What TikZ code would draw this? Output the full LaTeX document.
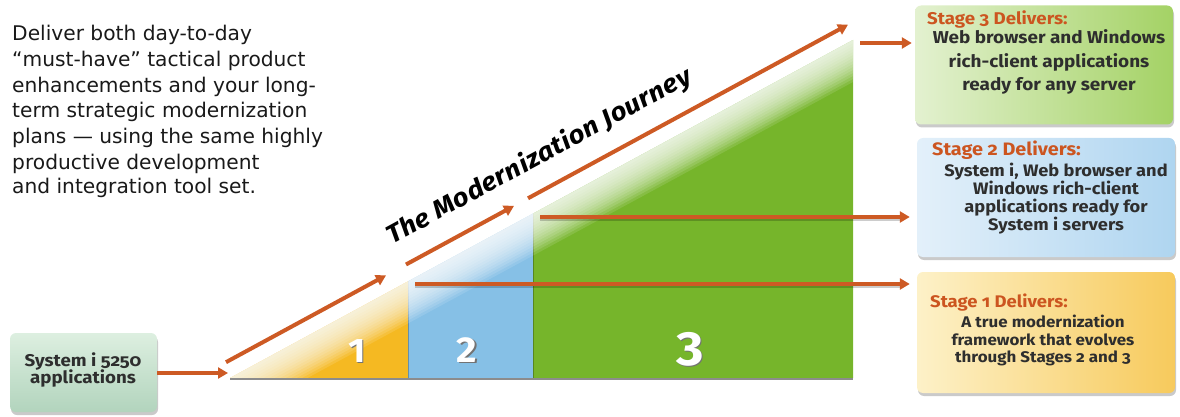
\documentclass[tikz,border=0pt]{standalone}
\usepackage{fontspec}
\setmainfont{DejaVu Sans}
\newfontfamily\fira[FakeStretch=1.1]{Fira Sans}
\newfontfamily\firajour[FakeStretch=1.08,LetterSpace=2]{Fira Sans}
\newfontfamily\firaold[Numbers=OldStyle,FakeStretch=1.1]{Fira Sans}
\usetikzlibrary{arrows.meta,shadows}
\definecolor{arrowc}{HTML}{CD5A24}
\definecolor{yel}{HTML}{F5B922}
\definecolor{blu}{HTML}{86C0E6}
\definecolor{grn}{HTML}{76B52B}
\definecolor{titlec}{HTML}{CC5520}
\definecolor{txt}{HTML}{2E2E2E}
\definecolor{sysa}{HTML}{DDEFE0}
\definecolor{sysb}{HTML}{B2D4BD}
\definecolor{sthl}{HTML}{E3F1D0}
\definecolor{sthr}{HTML}{A4D265}
\definecolor{stwl}{HTML}{E3F0FA}
\definecolor{stwr}{HTML}{AFD5F0}
\definecolor{stol}{HTML}{FDF1C8}
\definecolor{stor}{HTML}{F7CA5C}
\tikzset{
  stagebox/.style={rounded corners=6pt, minimum width=258pt, minimum height=119pt, inner sep=0pt,
    drop shadow={shadow xshift=1pt, shadow yshift=-3pt, opacity=0.35, fill=black!60}},
  sysbox/.style={rounded corners=6pt, minimum width=147pt, minimum height=79pt, inner sep=0pt,
    top color=sysa, bottom color=sysb,
    drop shadow={shadow xshift=1pt, shadow yshift=-3pt, opacity=0.35, fill=black!60}},
  arr/.style={draw=arrowc, line width=4pt, -{Triangle[length=10pt,width=11pt]}},
  para/.style={anchor=base west, inner sep=0pt, font=\fontsize{20.2}{24}\selectfont, text=black!90},
  stitle/.style={anchor=base west, inner sep=0pt, text=titlec},
  sbody/.style={anchor=base, inner sep=0pt, text=txt},
  num/.style={anchor=base, inner sep=0pt, text=white},
  numsh/.style={anchor=base, inner sep=0pt, text=black!55},
}
\begin{document}
\begin{tikzpicture}[x=1pt,y=-1pt]
\useasboundingbox (0,0) rectangle (1180,417);

% left paragraph
\foreach \t [count=\i] in {Deliver both day-to-day,
  “must-have” tactical product,
  enhancements and your long-,
  term strategic modernization,
  plans — using the same highly,
  productive development}
  \node[para] (p\i) at (12,{40.5+(\i-1)*25.8}) {\t};
\node[para] (p7) at (12,193) {and integration tool set.};

% boxes
\node[sysbox] (sys) at (83.5,372.5) {};
\node[stagebox, left color=sthl, right color=sthr] (s3) at (1044,65) {};
\node[stagebox, left color=stwl, right color=stwr] (s2) at (1046,197.5) {};
\node[stagebox, left color=stol, right color=stor, minimum height=121pt] (s1) at (1046,332.5) {};

% triangle
\coordinate (T0) at (230,378);
\coordinate (T1) at (408,281.4);
\coordinate (T2) at (533,213.6);
\coordinate (T3) at (853,40);
\coordinate (B1) at (408,378);
\coordinate (B2) at (533,378);
\coordinate (B3) at (853,378);
\fill[yel] (T0) -- (T1) -- (B1) -- cycle;
\fill[blu] (T1) -- (T2) -- (B2) -- (B1) -- cycle;
\fill[grn] (T2) -- (T3) -- (B3) -- (B2) -- cycle;
\draw[black, opacity=0.25, line width=1pt] (B1) -- (T1) (B2) -- (T2);
\begin{scope}
  \clip (T0) -- (T3) -- (B3) -- cycle;
  \foreach \d in {3,6,...,42}
    \fill[white, opacity=0.12] (T0) -- (T3) -- ([yshift=-\d pt]T3) -- ([yshift=-\d pt]T0) -- cycle;
\end{scope}
\draw[black!45, line width=1.6pt] ([yshift=-1pt]T0) -- ([yshift=-1pt]B3);

% numbers
\node[numsh, font=\fira\bfseries\fontsize{34}{34}\selectfont] at (358.5,363.5) {1};
\node[num, font=\fira\bfseries\fontsize{34}{34}\selectfont] (n1) at (357,362) {1};
\node[numsh, font=\fira\bfseries\fontsize{36}{36}\selectfont] at (468.5,363.5) {2};
\node[num, font=\fira\bfseries\fontsize{36}{36}\selectfont] (n2) at (467,362) {2};
\node[numsh, font=\fira\bfseries\fontsize{48}{48}\selectfont] at (691.5,366.5) {3};
\node[num, font=\fira\bfseries\fontsize{48}{48}\selectfont] (n3) at (690,365) {3};

% horizontal arrows (with soft shadow)
\coordinate (h1) at (415,284);
\coordinate (h2) at (540,217);
\coordinate (h3) at (860,43);
\draw[black, opacity=0.2, line width=3pt, shorten >=14pt] ([yshift=-2.5pt]h1) -- ([yshift=-2.5pt]h1 -| s1.west);
\draw[black, opacity=0.2, line width=3pt, shorten >=14pt] ([yshift=-2.5pt]h2) -- ([yshift=-2.5pt]h2 -| s2.west);
\draw[arr, shorten >=7pt] (h1) -- (h1 -| s1.west);
\draw[arr, shorten >=7pt] (h2) -- (h2 -| s2.west);
\draw[arr, shorten >=3pt] (h3) -- (h3 -| s3.west);

% input arrow
\coordinate (a0) at (228,373);
\draw[arr] (sys.east |- a0) -- (a0);

% journey arrows
\coordinate (d1a) at (226,362.2);
\coordinate (d1b) at (386,275.4);
\coordinate (d2a) at (406,264.5);
\coordinate (d2b) at (514,205.9);
\coordinate (d3a) at (528,198.3);
\coordinate (d3b) at (848,24.7);
\draw[arr] (d1a) -- (d1b);
\draw[arr] (d2a) -- (d2b);
\draw[arr] (d3a) -- (d3b);

\node[anchor=base west, inner sep=0pt, rotate=28.48, font=\firajour\bfseries\itshape\fontsize{25.5}{25.5}\selectfont] (jt) at (392,245) {The Modernization Journey};

% system box text
\node[sbody, font=\firaold\bfseries\fontsize{17}{17}\selectfont] (sy1) at (83,366) {System i 5250};
\node[sbody, font=\firaold\bfseries\fontsize{17}{17}\selectfont] (sy2) at (83,383) {applications};

% stage 3
\node[stitle, font=\firaold\bfseries\fontsize{17}{17}\selectfont] (t3) at (927,25) {Stage 3 Delivers:};
\node[sbody, font=\firaold\bfseries\fontsize{17.2}{18}\selectfont] (b3a) at (1049,44) {Web browser and Windows};
\node[sbody, font=\firaold\bfseries\fontsize{17.2}{18}\selectfont] (b3b) at (1049,67.5) {rich-client applications};
\node[sbody, font=\firaold\bfseries\fontsize{17.2}{18}\selectfont] (b3c) at (1049,91) {ready for any server};

% stage 2
\node[stitle, font=\firaold\bfseries\fontsize{18}{18}\selectfont] (t2) at (932,155) {Stage 2 Delivers:};
\node[sbody, font=\firaold\bfseries\fontsize{16.6}{16}\selectfont] (b2a) at (1056,176) {System i, Web browser and};
\node[sbody, font=\firaold\bfseries\fontsize{16.6}{16}\selectfont] (b2b) at (1056,194) {Windows rich-client};
\node[sbody, font=\firaold\bfseries\fontsize{16.6}{16}\selectfont] (b2c) at (1056,212) {applications ready for};
\node[sbody, font=\firaold\bfseries\fontsize{16.6}{16}\selectfont] (b2d) at (1056,230) {System i servers};

% stage 1
\node[stitle, font=\firaold\bfseries\fontsize{16.8}{17}\selectfont] (t1) at (930,307) {Stage 1 Delivers:};
\node[sbody, font=\firaold\bfseries\fontsize{15.4}{15}\selectfont] (b1a) at (1043,327) {A true modernization};
\node[sbody, font=\firaold\bfseries\fontsize{15.4}{15}\selectfont] (b1b) at (1043,345) {framework that evolves};
\node[sbody, font=\firaold\bfseries\fontsize{15.4}{15}\selectfont] (b1c) at (1043,362) {through Stages 2 and 3};
\end{tikzpicture}
\end{document}
